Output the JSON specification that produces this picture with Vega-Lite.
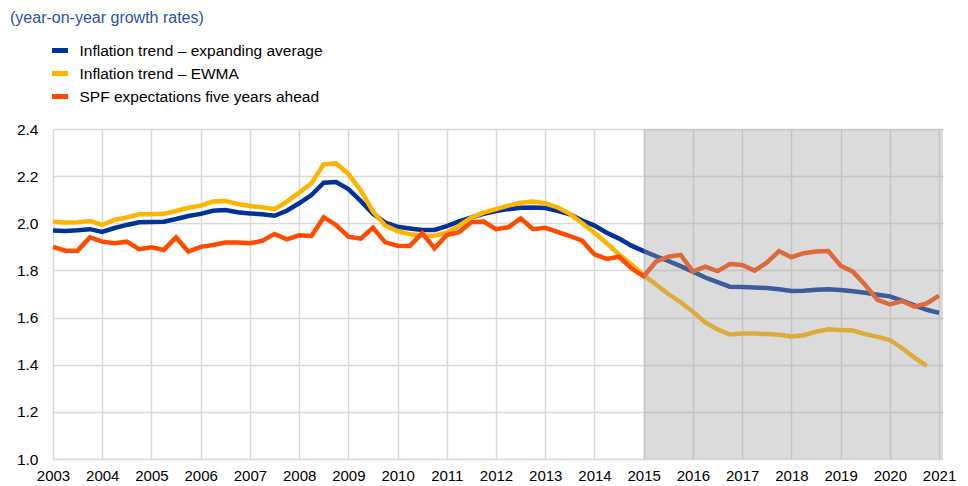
{
  "$schema": "https://vega.github.io/schema/vega-lite/v6.json",
  "width": 890,
  "height": 330,
  "autosize": {"type": "none"},
  "padding": {"left": 53, "top": 129, "right": 25, "bottom": 27},
  "title": {
    "text": "(year-on-year growth rates)",
    "anchor": "start",
    "frame": "group",
    "baseline": "alphabetic",
    "offset": 0,
    "dx": -43,
    "dy": -1,
    "fontSize": 16,
    "fontWeight": "normal",
    "color": "#2f4fa6",
    "font": "Liberation Sans"
  },
  "config": {
    "font": "Liberation Sans",
    "view": {"stroke": null},
    "axis": {
      "domain": false,
      "ticks": false,
      "grid": true,
      "gridColor": "#d9d9d9",
      "gridWidth": 1.5,
      "labelColor": "#000000",
      "title": null
    }
  },
  "data": {
    "values": [
      {"t": 2003.00, "ea": 1.969, "ew": 2.007, "spf": 1.900},
      {"t": 2003.25, "ea": 1.967, "ew": 2.003, "spf": 1.884},
      {"t": 2003.50, "ea": 1.970, "ew": 2.004, "spf": 1.884},
      {"t": 2003.75, "ea": 1.975, "ew": 2.010, "spf": 1.940},
      {"t": 2004.00, "ea": 1.963, "ew": 1.993, "spf": 1.922},
      {"t": 2004.25, "ea": 1.980, "ew": 2.014, "spf": 1.915},
      {"t": 2004.50, "ea": 1.993, "ew": 2.025, "spf": 1.922},
      {"t": 2004.75, "ea": 2.004, "ew": 2.038, "spf": 1.890},
      {"t": 2005.00, "ea": 2.005, "ew": 2.038, "spf": 1.898},
      {"t": 2005.25, "ea": 2.007, "ew": 2.040, "spf": 1.887},
      {"t": 2005.50, "ea": 2.018, "ew": 2.052, "spf": 1.940},
      {"t": 2005.75, "ea": 2.031, "ew": 2.066, "spf": 1.880},
      {"t": 2006.00, "ea": 2.040, "ew": 2.075, "spf": 1.900},
      {"t": 2006.25, "ea": 2.053, "ew": 2.092, "spf": 1.908},
      {"t": 2006.50, "ea": 2.056, "ew": 2.095, "spf": 1.918},
      {"t": 2006.75, "ea": 2.047, "ew": 2.082, "spf": 1.918},
      {"t": 2007.00, "ea": 2.042, "ew": 2.073, "spf": 1.915},
      {"t": 2007.25, "ea": 2.038, "ew": 2.068, "spf": 1.925},
      {"t": 2007.50, "ea": 2.032, "ew": 2.060, "spf": 1.955},
      {"t": 2007.75, "ea": 2.053, "ew": 2.092, "spf": 1.932},
      {"t": 2008.00, "ea": 2.085, "ew": 2.130, "spf": 1.949},
      {"t": 2008.25, "ea": 2.120, "ew": 2.170, "spf": 1.946},
      {"t": 2008.50, "ea": 2.172, "ew": 2.250, "spf": 2.025},
      {"t": 2008.75, "ea": 2.175, "ew": 2.254, "spf": 1.993},
      {"t": 2009.00, "ea": 2.145, "ew": 2.210, "spf": 1.943},
      {"t": 2009.25, "ea": 2.095, "ew": 2.140, "spf": 1.935},
      {"t": 2009.50, "ea": 2.040, "ew": 2.050, "spf": 1.981},
      {"t": 2009.75, "ea": 2.003, "ew": 1.990, "spf": 1.919},
      {"t": 2010.00, "ea": 1.985, "ew": 1.967, "spf": 1.905},
      {"t": 2010.25, "ea": 1.978, "ew": 1.953, "spf": 1.904},
      {"t": 2010.50, "ea": 1.972, "ew": 1.948, "spf": 1.958},
      {"t": 2010.75, "ea": 1.972, "ew": 1.947, "spf": 1.894},
      {"t": 2011.00, "ea": 1.988, "ew": 1.960, "spf": 1.950},
      {"t": 2011.25, "ea": 2.008, "ew": 1.990, "spf": 1.962},
      {"t": 2011.50, "ea": 2.025, "ew": 2.025, "spf": 2.005},
      {"t": 2011.75, "ea": 2.040, "ew": 2.045, "spf": 2.007},
      {"t": 2012.00, "ea": 2.052, "ew": 2.060, "spf": 1.975},
      {"t": 2012.25, "ea": 2.060, "ew": 2.075, "spf": 1.983},
      {"t": 2012.50, "ea": 2.066, "ew": 2.087, "spf": 2.021},
      {"t": 2012.75, "ea": 2.067, "ew": 2.092, "spf": 1.975},
      {"t": 2013.00, "ea": 2.065, "ew": 2.085, "spf": 1.981},
      {"t": 2013.25, "ea": 2.053, "ew": 2.068, "spf": 1.964},
      {"t": 2013.50, "ea": 2.038, "ew": 2.040, "spf": 1.946},
      {"t": 2013.75, "ea": 2.012, "ew": 2.000, "spf": 1.926},
      {"t": 2014.00, "ea": 1.990, "ew": 1.960, "spf": 1.868},
      {"t": 2014.25, "ea": 1.960, "ew": 1.915, "spf": 1.849},
      {"t": 2014.50, "ea": 1.935, "ew": 1.868, "spf": 1.858},
      {"t": 2014.75, "ea": 1.905, "ew": 1.825, "spf": 1.809},
      {"t": 2015.00, "ea": 1.882, "ew": 1.780, "spf": 1.775},
      {"t": 2015.25, "ea": 1.860, "ew": 1.740, "spf": 1.837},
      {"t": 2015.50, "ea": 1.840, "ew": 1.700, "spf": 1.858},
      {"t": 2015.75, "ea": 1.818, "ew": 1.665, "spf": 1.866},
      {"t": 2016.00, "ea": 1.795, "ew": 1.625, "spf": 1.795},
      {"t": 2016.25, "ea": 1.770, "ew": 1.580, "spf": 1.816},
      {"t": 2016.50, "ea": 1.750, "ew": 1.550, "spf": 1.797},
      {"t": 2016.75, "ea": 1.731, "ew": 1.528, "spf": 1.827},
      {"t": 2017.00, "ea": 1.730, "ew": 1.532, "spf": 1.823},
      {"t": 2017.25, "ea": 1.728, "ew": 1.532, "spf": 1.799},
      {"t": 2017.50, "ea": 1.725, "ew": 1.530, "spf": 1.833},
      {"t": 2017.75, "ea": 1.720, "ew": 1.527, "spf": 1.882},
      {"t": 2018.00, "ea": 1.713, "ew": 1.520, "spf": 1.856},
      {"t": 2018.25, "ea": 1.714, "ew": 1.525, "spf": 1.873},
      {"t": 2018.50, "ea": 1.718, "ew": 1.540, "spf": 1.880},
      {"t": 2018.75, "ea": 1.720, "ew": 1.550, "spf": 1.882},
      {"t": 2019.00, "ea": 1.717, "ew": 1.547, "spf": 1.820},
      {"t": 2019.25, "ea": 1.712, "ew": 1.545, "spf": 1.795},
      {"t": 2019.50, "ea": 1.705, "ew": 1.530, "spf": 1.738},
      {"t": 2019.75, "ea": 1.697, "ew": 1.518, "spf": 1.675},
      {"t": 2020.00, "ea": 1.690, "ew": 1.505, "spf": 1.656},
      {"t": 2020.25, "ea": 1.672, "ew": 1.470, "spf": 1.670},
      {"t": 2020.50, "ea": 1.652, "ew": 1.430, "spf": 1.646},
      {"t": 2020.75, "ea": 1.633, "ew": 1.395, "spf": 1.660},
      {"t": 2021.00, "ea": 1.620, "ew": null, "spf": 1.693}
    ]
  },
  "encoding": {
    "x": {
      "field": "t",
      "type": "quantitative",
      "scale": {"domain": [2003, 2021.08], "nice": false, "zero": false},
      "axis": {
        "values": [2003, 2004, 2005, 2006, 2007, 2008, 2009, 2010, 2011, 2012, 2013, 2014, 2015, 2016, 2017, 2018, 2019, 2020, 2021],
        "format": "d",
        "labelFontSize": 15,
        "labelPadding": 9,
        "labelFlush": false,
        "labelOverlap": false,
        "labelBound": false
      }
    }
  },
  "layer": [
    {
      "mark": {"type": "line", "strokeWidth": 4.5},
      "encoding": {
        "y": {
          "field": "ea",
          "type": "quantitative",
          "scale": {"domain": [1, 2.4], "nice": false, "zero": false},
          "axis": {
            "values": [1, 1.2, 1.4, 1.6, 1.8, 2, 2.2, 2.4],
            "format": ".1f",
            "labelFontSize": 15.5,
            "labelPadding": 15
          }
        },
        "color": {
          "datum": "Inflation trend – expanding average",
          "type": "nominal",
          "scale": {
            "domain": ["Inflation trend – expanding average", "Inflation trend – EWMA", "SPF expectations five years ahead"],
            "range": ["#003299", "#ffb400", "#ff4b00"]
          },
          "legend": {
            "orient": "none",
            "legendX": -3.5,
            "legendY": -89,
            "title": null,
            "padding": 0,
            "symbolType": "stroke",
            "symbolSize": 256,
            "symbolStrokeWidth": 5,
            "labelFontSize": 15.5,
            "labelColor": "#000000",
            "labelOffset": 9,
            "labelLimit": 400,
            "rowPadding": 2
          }
        }
      }
    },
    {
      "mark": {"type": "line", "strokeWidth": 4.5},
      "encoding": {
        "y": {"field": "ew", "type": "quantitative"},
        "color": {"datum": "Inflation trend – EWMA", "type": "nominal"}
      }
    },
    {
      "mark": {"type": "line", "strokeWidth": 4.5},
      "encoding": {
        "y": {"field": "spf", "type": "quantitative"},
        "color": {"datum": "SPF expectations five years ahead", "type": "nominal"}
      }
    },
    {
      "data": {"values": [{"s": 2015, "e": 2021.08}]},
      "mark": {"type": "rect", "color": "#a0a0a0", "opacity": 0.38},
      "encoding": {
        "x": {"field": "s", "type": "quantitative"},
        "x2": {"field": "e"}
      }
    }
  ]
}
